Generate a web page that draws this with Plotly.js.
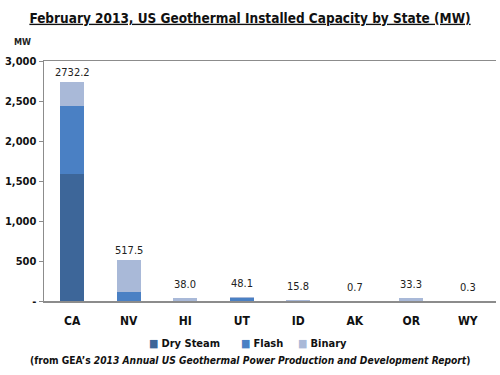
<!DOCTYPE html>
<html>
<head>
<meta charset="utf-8">
<script src="https://cdn.plot.ly/plotly-3.0.1.min.js"></script>
<style>html,body{margin:0;padding:0;background:#fff;}#chart{width:500px;height:375px;}</style>
</head>
<body>
<div id="chart"></div>
<script>
const states = ["CA", "NV", "HI", "UT", "ID", "AK", "OR", "WY"];
const drySteam = [1585, 0, 0, 0, 0, 0, 0, 0];
const flash = [852, 116, 0, 38, 0, 0, 0, 0];
const binary = [295.2, 401.5, 38.0, 10.1, 15.8, 0.7, 33.3, 0.3];
const totals = [2732.2, 517.5, 38.0, 48.1, 15.8, 0.7, 33.3, 0.3];
const totalLabels = ["2732.2", "517.5", "38.0", "48.1", "15.8", "0.7", "33.3", "0.3"];
const seriesNames = ["Dry Steam", "Flash", "Binary"];
const yTickVals = [0, 500, 1000, 1500, 2000, 2500, 3000];
const yTickText = ["-", "500", "1,000", "1,500", "2,000", "2,500", "3,000"];

const FONT = "'DejaVu Sans Condensed', 'Open Sans', sans-serif";
const seriesColors = ["#3d6699", "#4a80c4", "#a9b9d8"];
const seriesValues = [drySteam, flash, binary];

const data = seriesNames.map((name, k) => ({
  type: "bar", name: name, x: states, y: seriesValues[k],
  marker: {color: seriesColors[k]}, width: 0.42, hoverinfo: "skip", showlegend: false
}));

const annotations = states.map((s, i) => ({
  x: s, y: totals[i], xref: "x", yref: "y",
  text: totalLabels[i], showarrow: false,
  yanchor: "bottom", yshift: totals[i] < 100 ? 5 : 1,
  font: {family: FONT, size: 11, color: "#222"}
}));
annotations.push({
  xref: "paper", yref: "paper", x: -0.047, y: 1.08, xanchor: "center", yanchor: "middle",
  text: "<b>MW</b>", showarrow: false, font: {family: FONT, size: 9, color: "#222"}
});
annotations.push({
  xref: "paper", yref: "paper", x: 0.455, y: -0.246, xanchor: "center", yanchor: "middle",
  text: "<b>(from GEA’s <i>2013 Annual US Geothermal Power Production and Development Report</i>)</b>",
  showarrow: false, font: {family: FONT, size: 10.2, color: "#111"}
});
// legend built from series names/colours
const legendX = [0.228, 0.432, 0.558];
seriesNames.forEach((name, k) => {
  annotations.push({
    xref: "paper", yref: "paper", x: legendX[k], y: -0.175, xanchor: "left", yanchor: "middle",
    text: "<span style='color:" + seriesColors[k] + "'>■</span>\u00a0<b>" + name + "</b>",
    showarrow: false, font: {family: FONT, size: 11, color: "#111"}
  });
});

const layout = {
  width: 500, height: 375,
  margin: {l: 44, r: 4, t: 61, b: 74},
  paper_bgcolor: "#fff", plot_bgcolor: "#fff",
  barmode: "stack",
  showlegend: false,
  title: {
    text: "<b>February 2013, US Geothermal Installed Capacity by State (MW)</b>",
    x: 0.5, xanchor: "center", y: 0.952, yanchor: "middle",
    font: {family: FONT, size: 13.5, color: "#111", lineposition: "under"}
  },
  xaxis: {
    type: "category", range: [-0.5, 7.5],
    showline: true, linecolor: "#8c8c8c", linewidth: 1.5, mirror: true,
    ticks: "", tickfont: {family: FONT, size: 12, color: "#111", weight: "bold"},
    ticklabelstandoff: 8, showgrid: false, fixedrange: true
  },
  yaxis: {
    range: [0, 3000], tickvals: yTickVals, ticktext: yTickText,
    showline: true, linecolor: "#8c8c8c", linewidth: 1.5,
    ticks: "outside", ticklen: 4, tickcolor: "#8c8c8c",
    tickfont: {family: FONT, size: 11, color: "#111", weight: "bold"},
    showgrid: false, zeroline: false, fixedrange: true
  },
  annotations: annotations
};

Plotly.newPlot("chart", data, layout, {displayModeBar: false, staticPlot: true});
</script>
</body>
</html>
